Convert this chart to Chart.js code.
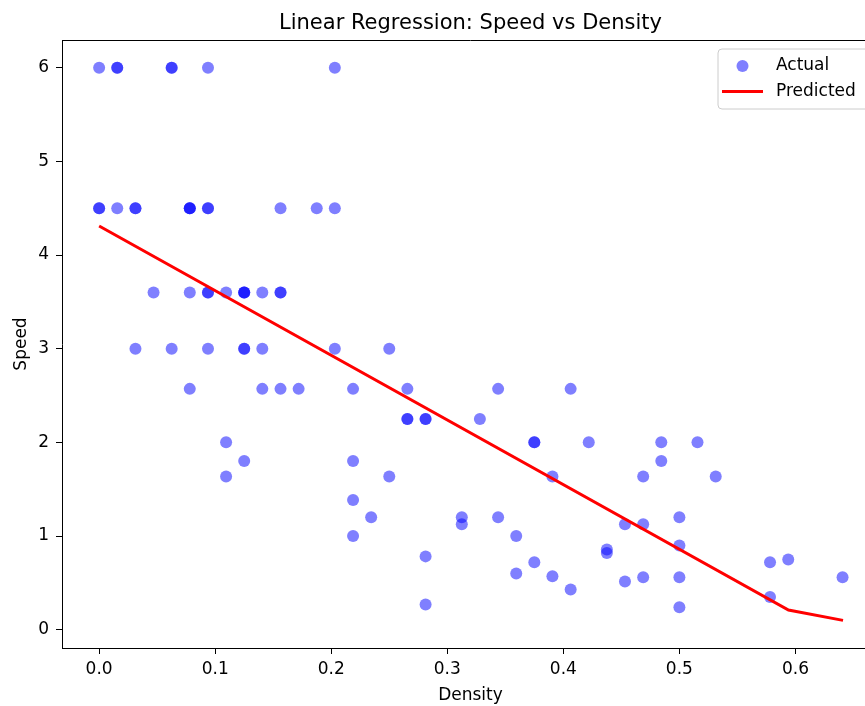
<!DOCTYPE html>
<html>
<head>
<meta charset="utf-8">
<script src="https://cdn.jsdelivr.net/npm/chart.js@4/dist/chart.umd.min.js"></script>
<style>
html,body{margin:0;padding:0;background:#fff;overflow:hidden;}
#wrap{position:absolute;left:0;top:0;width:865px;height:706px;overflow:hidden;background:#fff;}
canvas{display:block;position:absolute;left:0;top:0;}
</style>
</head>
<body>
<div id="wrap"><canvas id="c" width="900" height="706"></canvas></div>
<script>
// ---- data ----
const density = [
  0, 0.0156, 0.0156, 0.0625, 0.0625, 0.0938, 0.2031,
  0, 0, 0.0156, 0.0313, 0.0313, 0.0781, 0.0781, 0.0781, 0.0938, 0.0938, 0.1563, 0.1875, 0.2031,
  0.0469, 0.0781, 0.0938, 0.0938, 0.1094, 0.125, 0.125, 0.125, 0.1406, 0.1563, 0.1563,
  0.0313, 0.0625, 0.0938, 0.125, 0.125, 0.1406, 0.2031, 0.25,
  0.0781, 0.1406, 0.1563, 0.1719, 0.2188, 0.2656, 0.3438, 0.4063,
  0.2656, 0.2656, 0.2813, 0.2813, 0.3281,
  0.1094, 0.375, 0.375, 0.4219, 0.4844, 0.5156,
  0.125, 0.2188, 0.4844,
  0.1094, 0.25, 0.3906, 0.4688, 0.5313,
  0.2188,
  0.2344, 0.3125, 0.3438, 0.5,
  0.3125, 0.4531, 0.4688,
  0.2188, 0.3594,
  0.5,
  0.4375, 0.4375,
  0.2813,
  0.5938,
  0.375, 0.5781,
  0.3594,
  0.3906, 0.4688, 0.5, 0.6406,
  0.4531,
  0.4063,
  0.5781,
  0.2813,
  0.5
];
const speed = [
  6, 6, 6, 6, 6, 6, 6,
  4.5, 4.5, 4.5, 4.5, 4.5, 4.5, 4.5, 4.5, 4.5, 4.5, 4.5, 4.5, 4.5,
  3.6, 3.6, 3.6, 3.6, 3.6, 3.6, 3.6, 3.6, 3.6, 3.6, 3.6,
  3, 3, 3, 3, 3, 3, 3, 3,
  2.571, 2.571, 2.571, 2.571, 2.571, 2.571, 2.571, 2.571,
  2.25, 2.25, 2.25, 2.25, 2.25,
  2, 2, 2, 2, 2, 2,
  1.8, 1.8, 1.8,
  1.636, 1.636, 1.636, 1.636, 1.636,
  1.385,
  1.2, 1.2, 1.2, 1.2,
  1.125, 1.125, 1.125,
  1, 1,
  0.9,
  0.857, 0.818,
  0.783,
  0.75,
  0.72, 0.72,
  0.6,
  0.57, 0.56, 0.56, 0.56,
  0.514,
  0.43,
  0.35,
  0.27,
  0.24
];
const predDensity = [0, 0.594, 0.641];
const predSpeed = [4.31, 0.21, 0.10];
const xTicks = [0, 0.1, 0.2, 0.3, 0.4, 0.5, 0.6];
const yTicks = [0, 1, 2, 3, 4, 5, 6];
const titleText = 'Linear Regression: Speed vs Density';
const xTitle = 'Density';
const yTitle = 'Speed';
const seriesNames = ['Actual', 'Predicted'];

const FONT = '"DejaVu Sans", sans-serif';

const deco = {
  id: 'deco',
  afterDraw(chart) {
    const ctx = chart.ctx, a = chart.chartArea;
    ctx.save();
    // top spine
    ctx.strokeStyle = '#000';
    ctx.lineWidth = 1;
    ctx.beginPath();
    ctx.moveTo(a.left, a.top + 0.5);
    ctx.lineTo(a.right, a.top + 0.5);
    ctx.stroke();
    // title
    ctx.fillStyle = '#000';
    ctx.font = '21px ' + FONT;
    ctx.textAlign = 'center';
    ctx.textBaseline = 'alphabetic';
    ctx.fillText(titleText, (a.left + a.right) / 2, 29);
    // axis titles
    ctx.font = '17px ' + FONT;
    ctx.fillText(xTitle, (a.left + a.right) / 2, 700);
    ctx.save();
    ctx.translate(26, (a.top + a.bottom) / 2);
    ctx.rotate(-Math.PI / 2);
    ctx.fillText(yTitle, 0, 0);
    ctx.restore();
    // legend
    const bx = 718, by = 49, bw = 153, bh = 60, r = 4;
    ctx.beginPath();
    ctx.moveTo(bx + r, by);
    ctx.lineTo(bx + bw - r, by);
    ctx.quadraticCurveTo(bx + bw, by, bx + bw, by + r);
    ctx.lineTo(bx + bw, by + bh - r);
    ctx.quadraticCurveTo(bx + bw, by + bh, bx + bw - r, by + bh);
    ctx.lineTo(bx + r, by + bh);
    ctx.quadraticCurveTo(bx, by + bh, bx, by + bh - r);
    ctx.lineTo(bx, by + r);
    ctx.quadraticCurveTo(bx, by, bx + r, by);
    ctx.closePath();
    ctx.fillStyle = 'rgba(255,255,255,0.8)';
    ctx.fill();
    ctx.strokeStyle = '#cccccc';
    ctx.lineWidth = 1;
    ctx.stroke();
    ctx.fillStyle = 'rgba(0,0,255,0.5)';
    ctx.beginPath();
    ctx.arc(742.5, 66, 6, 0, Math.PI * 2);
    ctx.fill();
    ctx.strokeStyle = 'red';
    ctx.lineWidth = 3;
    ctx.beginPath();
    ctx.moveTo(722, 91.5);
    ctx.lineTo(763, 91.5);
    ctx.stroke();
    ctx.fillStyle = '#000';
    ctx.font = '17px ' + FONT;
    ctx.textAlign = 'left';
    ctx.textBaseline = 'middle';
    ctx.fillText(seriesNames[0], 776, 66);
    ctx.fillText(seriesNames[1], 776, 92);
    ctx.restore();
  }
};

new Chart(document.getElementById('c'), {
  data: {
    datasets: [
      {
        type: 'line',
        label: seriesNames[1],
        data: predDensity.map((x, i) => ({x: x, y: predSpeed[i]})),
        borderColor: 'red',
        borderWidth: 3,
        pointRadius: 0,
        fill: false,
        tension: 0,
        order: 0
      },
      {
        type: 'scatter',
        label: seriesNames[0],
        data: density.map((x, i) => ({x: x, y: speed[i]})),
        backgroundColor: 'rgba(0,0,255,0.5)',
        borderWidth: 0,
        pointRadius: 6,
        pointHoverRadius: 6,
        order: 1
      }
    ]
  },
  options: {
    responsive: false,
    animation: false,
    events: [],
    layout: {padding: {left: 0, top: 40, right: 21, bottom: 0}},
    plugins: {legend: {display: false}, title: {display: false}, tooltip: {enabled: false}},
    scales: {
      x: {
        type: 'linear',
        min: -0.032,
        max: 0.672,
        afterBuildTicks: s => { s.ticks = xTicks.map(v => ({value: v})); },
        afterFit: s => { s.height = 58; },
        grid: {display: true, drawOnChartArea: false, drawTicks: true, tickLength: 6, tickColor: '#000', tickWidth: 1},
        border: {display: true, color: '#000', width: 1},
        ticks: {color: '#000', font: {family: FONT, size: 17}, padding: 5, maxRotation: 0, autoSkip: false,
          callback: v => v.toFixed(1)}
      },
      y: {
        type: 'linear',
        min: -0.195,
        max: 6.295,
        afterBuildTicks: s => { s.ticks = yTicks.map(v => ({value: v})); },
        afterFit: s => { s.width = 62; },
        grid: {display: true, drawOnChartArea: false, drawTicks: true, tickLength: 6, tickColor: '#000', tickWidth: 1},
        border: {display: true, color: '#000', width: 1},
        ticks: {color: '#000', font: {family: FONT, size: 17}, padding: 7, autoSkip: false,
          callback: v => String(v)}
      }
    }
  },
  plugins: [deco]
});
</script>
</body>
</html>
